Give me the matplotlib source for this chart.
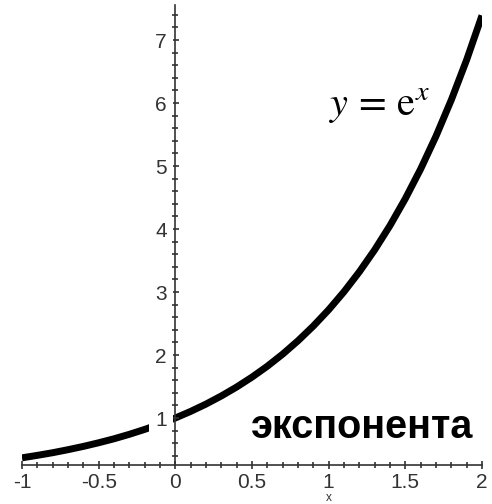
import matplotlib
matplotlib.use('Agg')
import matplotlib.pyplot as plt
from matplotlib.ticker import MultipleLocator

plt.rcParams.update({
    'font.family': ['Liberation Sans', 'DejaVu Sans'],
    'mathtext.fontset': 'stix',
})

# y = e^x sampled every 0.1 on [-1, 2]
xs = [-1.0, -0.9, -0.8, -0.7, -0.6, -0.5, -0.4, -0.3, -0.2, -0.1,
      0.0, 0.1, 0.2, 0.3, 0.4, 0.5, 0.6, 0.7, 0.8, 0.9,
      1.0, 1.1, 1.2, 1.3, 1.4, 1.5, 1.6, 1.7, 1.8, 1.9, 2.0]
ys = [0.368, 0.407, 0.449, 0.497, 0.549, 0.607, 0.670, 0.741, 0.819, 0.905,
      1.000, 1.105, 1.221, 1.350, 1.492, 1.649, 1.822, 2.014, 2.226, 2.460,
      2.718, 3.004, 3.320, 3.669, 4.055, 4.482, 4.953, 5.474, 6.050, 6.686, 7.389]

xticks = [-1, -0.5, 0, 0.5, 1, 1.5, 2]
xticklabels = ['-1', '-0.5', '0', '0.5', '1', '1.5', '2']
yticks = [1, 2, 3, 4, 5, 6, 7]

axis_col = '#333333'
tick_family = ['Liberation Sans Narrow', 'Liberation Sans', 'DejaVu Sans']

fig = plt.figure(figsize=(4.92, 5.04), dpi=100)
ax = fig.add_axes([22 / 492, 39 / 504, 460 / 492, 460 / 504])

ax.plot(xs, ys, color='black', lw=5.0, solid_capstyle='butt', zorder=2)

ax.set_xlim(-1, 2)
ax.set_ylim(0.254, 7.556)

# axes cross at x = 0, the x-axis sits at the bottom
ax.spines['left'].set_position(('data', 0))
ax.spines['right'].set_visible(False)
ax.spines['top'].set_visible(False)
for s in ('left', 'bottom'):
    ax.spines[s].set_color(axis_col)
    ax.spines[s].set_linewidth(1.2)
ax.set_axisbelow(False)

ax.set_xticks(xticks)
ax.set_xticklabels(xticklabels)
ax.set_yticks(yticks)
ax.xaxis.set_minor_locator(MultipleLocator(0.1))
ax.yaxis.set_minor_locator(MultipleLocator(0.2))
ax.tick_params(which='major', direction='inout', length=6, width=1.2,
               color=axis_col, labelcolor=axis_col, labelsize=15, pad=3)
ax.tick_params(which='minor', direction='inout', length=4, width=1.2,
               color=axis_col)
for lab in ax.get_xticklabels() + ax.get_yticklabels():
    lab.set_family(tick_family)
for lab in ax.get_yticklabels():
    lab.set_bbox(dict(boxstyle='square,pad=0.3', facecolor='white',
                      edgecolor='none'))

xl = ax.set_xlabel('x', fontsize=8.5, color=axis_col, family=tick_family)
xl.set_verticalalignment('center')
ax.xaxis.set_label_coords(2 / 3, -0.071)

ax.text(1.0, 5.81, r'$y\,=\,\mathrm{e}^{x}$', fontsize=29, color='black',
        ha='left', va='baseline')
ax.text(0.49, 0.68, 'экспонента', fontsize=28.5, fontweight='bold',
        color='black', ha='left', va='baseline')

fig.savefig('out.png', dpi=100)
